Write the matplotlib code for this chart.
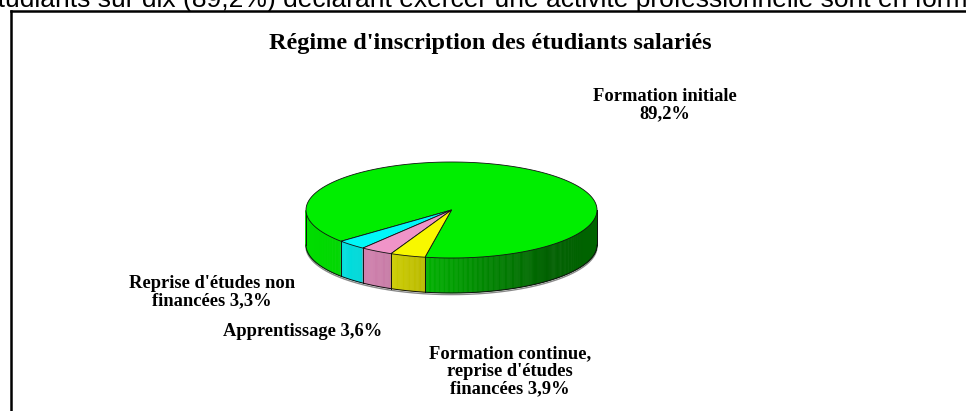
import numpy as np
import matplotlib
matplotlib.use('Agg')
import matplotlib.pyplot as plt
from matplotlib.patches import Polygon

# ---- data ----
categories = ["Formation initiale", "Reprise d'études non financées",
              "Apprentissage", "Formation continue, reprise d'études financées"]
values = [89.2, 3.3, 3.6, 3.9]
labels = ["Formation initiale\n89,2%", "Reprise d'études non\nfinancées 3,3%",
          "Apprentissage 3,6%", "Formation continue,\nreprise d'études\nfinancées 3,9%"]
title = "Régime d'inscription des étudiants salariés"
header = "étudiants sur dix (89,2%) déclarant exercer une activité professionnelle sont en formation initiale"
top_colors = ['#00EE00', '#00F8F8', '#F094C8', '#F8F800']

# ---- figure ----
W, H = 966, 411
fig = plt.figure(figsize=(W / 100, H / 100), dpi=100)
ax = fig.add_axes([0, 0, 1, 1])
ax.set_xlim(0, W)
ax.set_ylim(H, 0)
ax.axis('off')

# pie geometry (pixels)
cx, cy, a, b, depth = 451.5, 210.0, 145.5, 48.0, 35.0
start = 259.5


def rim(theta_deg):
    t = np.radians(theta_deg)
    return cx + a * np.cos(t), cy - b * np.sin(t)


def to_rgb(c):
    return np.array(matplotlib.colors.to_rgb(c))


kx = [306, 341, 391, 425, 490, 550, 597]
ks = [0.93, 0.90, 0.83, 0.75, 0.55, 0.40, 0.42]


def shade(x):
    return float(np.interp(x, kx, ks))


vals = np.array(values, dtype=float)
spans = vals / vals.sum() * 360.0
bounds = start + np.concatenate([[0], np.cumsum(spans)])

# shadow under bottom rim
th = np.linspace(180, 360, 300)
xs, ys = rim(th)
ax.plot(xs, ys + depth + 1.6, color='#8a8a8a', lw=1.0, zorder=1)

# side walls
for i in range(len(vals)):
    t1, t2 = bounds[i], bounds[i + 1]
    n = max(2, int((t2 - t1) / 0.5))
    edges = np.linspace(t1, t2, n + 1)
    base = to_rgb(top_colors[i])
    for e1, e2 in zip(edges[:-1], edges[1:]):
        mid = 0.5 * (e1 + e2)
        if np.sin(np.radians(mid)) >= 0:
            continue
        x1, y1 = rim(e1)
        x2, y2 = rim(e2)
        col = np.clip(base * shade(0.5 * (x1 + x2)), 0, 1)
        ax.add_patch(Polygon([(x1, y1), (x2, y2), (x2, y2 + depth), (x1, y1 + depth)],
                             closed=True, facecolor=col, edgecolor=col, lw=0.4, zorder=2))

# side outlines
ax.plot(xs, ys + depth, color='#111111', lw=0.7, zorder=3)
for t in list(bounds[:-1]) + [180, 360]:
    if np.sin(np.radians(t)) <= 1e-9:
        x, y = rim(t)
        ax.plot([x, x], [y, y + depth], color='#111111', lw=0.7, zorder=3)

# top surface
for i in range(len(vals)):
    t1, t2 = bounds[i], bounds[i + 1]
    th = np.linspace(t1, t2, max(3, int((t2 - t1) * 2)))
    px, py = rim(th)
    pts = [(cx, cy)] + list(zip(px, py))
    ax.add_patch(Polygon(pts, closed=True, facecolor=top_colors[i],
                         edgecolor='#111111', lw=0.6, zorder=4))

# frame
ax.plot([10.5, 10.5], [H + 5, 11.5], color='black', lw=1.8, zorder=5, solid_capstyle='projecting')
ax.plot([10.5, W + 5], [11.5, 11.5], color='black', lw=1.8, zorder=5, solid_capstyle='projecting')

# header text (cut at top, as in the source page)
fig.canvas.draw()
r = fig.canvas.get_renderer()
probe = ax.text(0, 7, header[2:header.index("en form") + 7], fontsize=16,
                family='Liberation Sans', va='baseline')
wvis = probe.get_window_extent(r).width
probe.remove()
hfs = 16 * (966 - 5) / wvis
tmp = ax.text(0, 7, "ét", fontsize=hfs, family='Liberation Sans', va='baseline')
wpre = tmp.get_window_extent(r).width
tmp.remove()
ax.text(5 - wpre, 7.5, header, fontsize=hfs, family='Liberation Sans', va='baseline', ha='left')

serif = 'Liberation Serif'
ax.text(490, 43, title, fontsize=17.5, family=serif, weight='bold', ha='center', va='center')

label_pos = [(665, 105), (212, 292), (303, 331), (510, 371)]
for (x, y), lab in zip(label_pos, labels):
    ax.text(x, y, lab, fontsize=13.3, family=serif, weight='bold', ha='center', va='center',
            linespacing=1.05)

fig.savefig('out.png', dpi=100)
